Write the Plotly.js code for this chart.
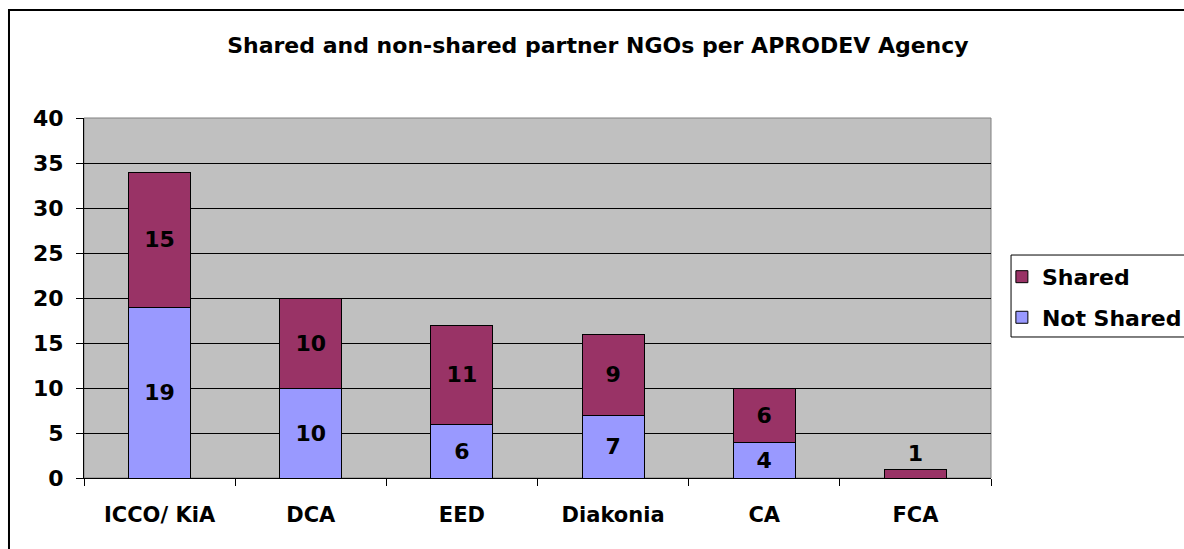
<!DOCTYPE html>
<html>
<head>
<meta charset="utf-8">
<script src="https://cdn.plot.ly/plotly-3.0.1.min.js"></script>
<style>
html,body{margin:0;padding:0;background:#fff;}
#chart{width:1184px;height:549px;}
</style>
</head>
<body>
<div id="chart"></div>
<script>
var categories = ["ICCO/ KiA", "DCA", "EED", "Diakonia", "CA", "FCA"];
var notShared = [19, 10, 6, 7, 4, 0];
var shared = [15, 10, 11, 9, 6, 1];
var seriesNames = ["Not Shared", "Shared"];
var yTicks = [0, 5, 10, 15, 20, 25, 30, 35, 40];

var FONT = "DejaVu Sans, Verdana, sans-serif";

function labels(vals){ return vals.map(function(v){ return v > 0 ? String(v) : ""; }); }

var traceNot = {
  type: "bar", name: seriesNames[0], legendgroup: "a", legendrank: 2, x: categories, y: notShared,
  text: labels(notShared), textposition: "inside", insidetextanchor: "middle",
  textfont: {family: FONT, size: 22, color: "#000", weight: "bold"},
  marker: {color: "#9999FF", line: {color: "#000", width: 1}},
  hoverinfo: "none"
};
var traceShared = {
  type: "bar", name: seriesNames[1], legendgroup: "b", legendrank: 1, x: categories, y: shared,
  text: labels(shared),
  textposition: shared.map(function(v, i){ return (v + notShared[i]) < 3 ? "outside" : "inside"; }),
  insidetextanchor: "middle",
  textfont: {family: FONT, size: 22, color: "#000", weight: "bold"},
  marker: {color: "#993366", line: {color: "#000", width: 1}},
  hoverinfo: "none", cliponaxis: false
};

var layout = {
  width: 1184, height: 549,
  margin: {l: 84, r: 193, t: 118, b: 71, autoexpand: false},
  paper_bgcolor: "#fff", plot_bgcolor: "#C0C0C0",
  barmode: "stack", bargap: 0.59,
  uniformtext: {mode: false},
  title: {text: "Shared and non-shared partner NGOs per APRODEV Agency",
          font: {family: FONT, size: 22, color: "#000", weight: "bold"},
          x: 0.505, xanchor: "center", y: 0.918, yanchor: "middle"},
  xaxis: {type: "category", tickson: "boundaries", ticks: "outside", ticklen: 7,
          tickcolor: "#000", tickwidth: 1, showline: true, linecolor: "#000", linewidth: 1,
          showgrid: false, ticklabelstandoff: 18,
          tickfont: {family: FONT, size: 21, color: "#000", weight: "bold"},
          fixedrange: true},
  yaxis: {range: [0, 40], tickvals: yTicks, ticks: "outside", ticklen: 7, tickcolor: "#000",
          showline: true, linecolor: "#000", linewidth: 1, showgrid: true, gridcolor: "#000",
          gridwidth: 1, zeroline: false, ticklabelstandoff: 8,
          tickfont: {family: FONT, size: 22, color: "#000", weight: "bold"}, fixedrange: true},
  legend: {x: 1.012, y: 0.617, xanchor: "left", yanchor: "top", traceorder: "grouped",
           borderwidth: 0, bgcolor: "rgba(0,0,0,0)",
           font: {family: FONT, size: 22, color: "#000", weight: "bold"},
           itemwidth: 30, tracegroupgap: 9},
  showlegend: true,
  shapes: [
    {type: "rect", xref: "paper", yref: "paper", x0: 0, x1: 1, y0: 0, y1: 1,
     line: {color: "#808080", width: 1}, fillcolor: "rgba(0,0,0,0)", layer: "below"},
    {type: "rect", xref: "paper", yref: "paper", x0: 1.0221, x1: 1.25, y0: 0.3917, y1: 0.6194,
     line: {color: "#000", width: 1}, fillcolor: "rgba(0,0,0,0)"},
    {type: "rect", xref: "paper", yref: "paper", x0: -0.0827, x1: 1.25, y0: -0.3, y1: 1.3,
     line: {color: "#000", width: 2}, fillcolor: "rgba(0,0,0,0)"}
  ]
};

Plotly.newPlot("chart", [traceNot, traceShared], layout, {displayModeBar: false, staticPlot: true});
</script>
</body>
</html>
